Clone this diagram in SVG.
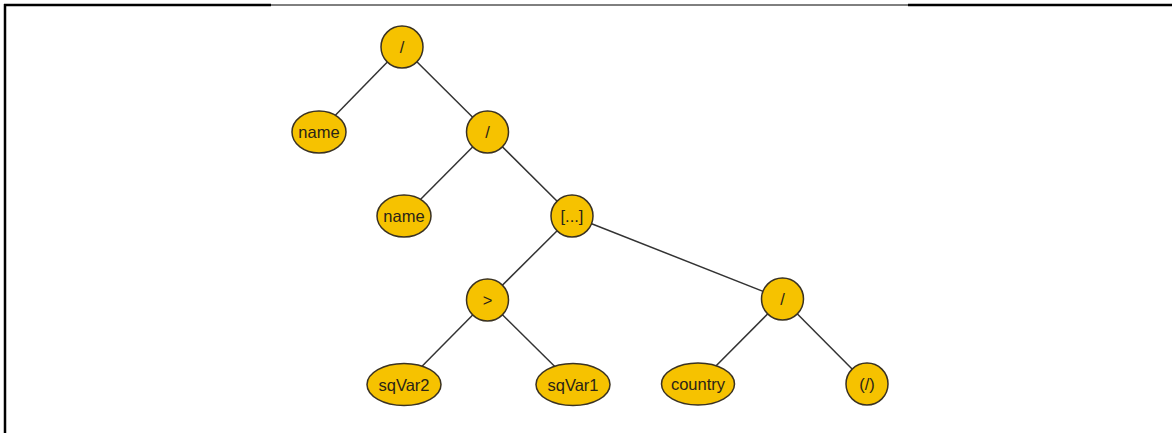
<svg xmlns="http://www.w3.org/2000/svg" width="1172" height="433" viewBox="0 0 1172 433">
  <style>
    .frame { stroke: #000; fill: none; }
    .edge { stroke: #333; stroke-width: 1.5; fill: none; }
    .node { fill: #F6C200; stroke: #3a3222; stroke-width: 1.5; }
    .label { font-family: "Liberation Sans", Arial, sans-serif; font-size: 16.5px; fill: #2a2418; text-anchor: middle; dominant-baseline: central; }
  </style>
  <rect width="1172" height="433" fill="#fff"/>

  <!-- page frame -->
  <g id="frame">
    <line class="frame" x1="4" y1="5" x2="271" y2="5" stroke-width="2.5"/>
    <line class="frame" x1="271" y1="5" x2="908" y2="5" stroke-width="1"/>
    <line class="frame" x1="908" y1="5" x2="1172" y2="5" stroke-width="2.5"/>
    <line class="frame" x1="5" y1="4" x2="5" y2="433" stroke-width="2.5"/>
  </g>

  <!-- tree edges -->
  <g id="connectors">
    <line class="edge" x1="402" y1="47" x2="319" y2="132"/>
    <line class="edge" x1="402" y1="47" x2="487.5" y2="132"/>
    <line class="edge" x1="487.5" y1="132" x2="404" y2="216"/>
    <line class="edge" x1="487.5" y1="132" x2="572" y2="216"/>
    <line class="edge" x1="572" y1="216" x2="487.5" y2="300"/>
    <line class="edge" x1="572" y1="216" x2="782.5" y2="299"/>
    <line class="edge" x1="487.5" y1="300" x2="404" y2="384.5"/>
    <line class="edge" x1="487.5" y1="300" x2="573" y2="384.5"/>
    <line class="edge" x1="782.5" y1="299" x2="698" y2="384"/>
    <line class="edge" x1="782.5" y1="299" x2="867" y2="384"/>
  </g>

  <g id="root">
    <circle class="node" cx="402" cy="47" r="21"/>
    <text class="label" x="402" y="47">/</text>
  </g>
  <g id="name1">
    <ellipse class="node" cx="319" cy="132" rx="27" ry="21"/>
    <text class="label" x="319" y="132">name</text>
  </g>
  <g id="slash2">
    <circle class="node" cx="487.5" cy="132" r="21"/>
    <text class="label" x="487.5" y="132">/</text>
  </g>
  <g id="name2">
    <ellipse class="node" cx="404" cy="216" rx="27" ry="21"/>
    <text class="label" x="404" y="216">name</text>
  </g>
  <g id="predicate">
    <circle class="node" cx="572" cy="216" r="21"/>
    <text class="label" x="572" y="216">[...]</text>
  </g>
  <g id="gt">
    <circle class="node" cx="487.5" cy="300" r="21"/>
    <text class="label" x="487.5" y="300">&gt;</text>
  </g>
  <g id="sqVar2">
    <ellipse class="node" cx="404" cy="384.5" rx="37" ry="21"/>
    <text class="label" x="404" y="384.5">sqVar2</text>
  </g>
  <g id="sqVar1">
    <ellipse class="node" cx="573" cy="384.5" rx="37" ry="21"/>
    <text class="label" x="573" y="384.5">sqVar1</text>
  </g>
  <g id="slash3">
    <circle class="node" cx="782.5" cy="299" r="21"/>
    <text class="label" x="782.5" y="299">/</text>
  </g>
  <g id="country">
    <ellipse class="node" cx="698" cy="384" rx="36.5" ry="21"/>
    <text class="label" x="698" y="384">country</text>
  </g>
  <g id="rootslash">
    <circle class="node" cx="867" cy="384" r="21"/>
    <text class="label" x="867" y="384">(/)</text>
  </g>
</svg>
